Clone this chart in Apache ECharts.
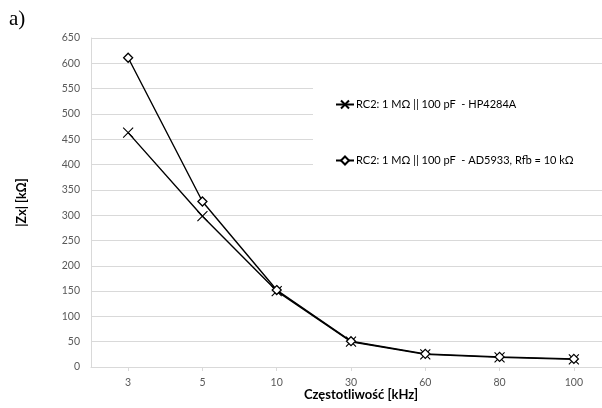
<!DOCTYPE html>
<html><head><meta charset="utf-8">
<script src="https://cdn.jsdelivr.net/npm/echarts@6/dist/echarts.min.js"></script>
<style>html,body{margin:0;padding:0;background:#fff}#c{width:602px;height:408px}</style>
</head><body><div id="c"></div>
<script>
const categories = ['3','5','10','30','60','80','100'];
const hpValues = [463, 298, 150, 50, 25, 19, 15];
const adValues = [611, 327, 152, 51, 26, 20, 16];
const seriesNames = ['RC2: 1 MΩ || 100 pF  - HP4284A', 'RC2: 1 MΩ || 100 pF  - AD5933, Rfb = 10 kΩ'];

const chart = echarts.init(document.getElementById('c'), null, {renderer:'canvas'});
const font = 'Lato, "Open Sans", sans-serif';
const crossPath = 'path://M0,0 L10,10 M10,0 L0,10';
chart.setOption({
  animation: false,
  backgroundColor: '#fff',
  title: {text: 'a)', left: 4, top: 4, textStyle: {fontFamily: '"Liberation Serif", serif', fontSize: 21, fontWeight: 'normal', color: '#000'}},
  grid: {left: 91, width: 520, top: 38, bottom: 41, outerBoundsMode: 'none', containLabel: false},
  legend: {
    orient: 'vertical', left: 313, top: 72, padding: [27, 300, 10, 22], itemGap: 45,
    backgroundColor: '#fff', itemWidth: 18, itemHeight: 10,
    textStyle: {fontFamily: font, fontSize: 11, color: '#000', padding: [0,0,0,-3]},
    data: seriesNames
  },
  xAxis: {
    type: 'category', data: categories, boundaryGap: true,
    name: 'Częstotliwość [kHz]', nameLocation: 'middle', nameGap: 21, nameMoveOverlap: false,
    nameTextStyle: {fontFamily: font, fontSize: 13, fontWeight: 'bold', color: '#000', padding: [0, 0, 0, 20]},
    axisLine: {lineStyle: {color: '#d9d9d9', width: 1}},
    axisTick: {show: true, alignWithLabel: true, length: 4, lineStyle: {color: '#d9d9d9'}},
    axisLabel: {fontFamily: font, fontSize: 10.5, color: '#595959', margin: 10}
  },
  yAxis: {
    type: 'value', min: 0, max: 650, interval: 50,
    name: '|Zx| [kΩ]', nameLocation: 'middle', nameGap: 63, nameRotate: 90, nameMoveOverlap: false,
    nameTextStyle: {fontFamily: font, fontSize: 12.5, fontWeight: 'bold', color: '#000'},
    axisLine: {show: true, lineStyle: {color: '#d9d9d9'}},
    axisTick: {show: false},
    splitLine: {lineStyle: {color: '#d9d9d9', width: 1}},
    axisLabel: {fontFamily: font, fontSize: 10.5, color: '#595959', margin: 11}
  },
  series: [
    {
      name: seriesNames[0], type: 'line', data: hpValues,
      symbol: crossPath, symbolSize: 10, showAllSymbol: true,
      lineStyle: {color: '#000', width: 1.4},
      itemStyle: {color: 'rgba(0,0,0,0)', borderColor: '#000', borderWidth: 1.1}
    },
    {
      name: seriesNames[1], type: 'line', data: adValues,
      symbol: 'diamond', symbolSize: 9, showAllSymbol: true,
      lineStyle: {color: '#000', width: 1.4},
      itemStyle: {color: '#fff', borderColor: '#000', borderWidth: 1.3}
    }
  ]
});
</script></body></html>
